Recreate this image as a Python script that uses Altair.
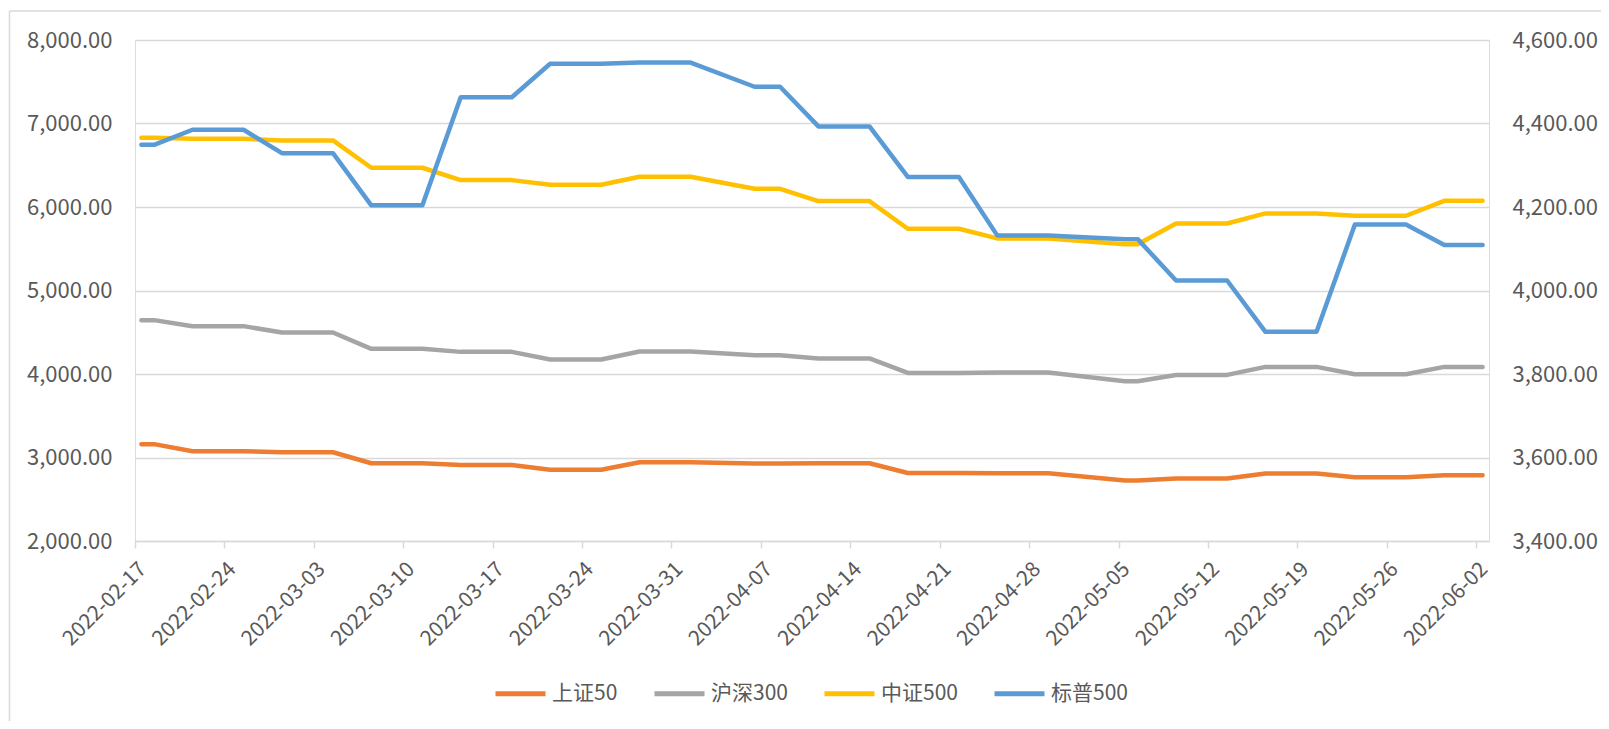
import altair as alt
import pandas as pd

# ---- data (weekly values, shown on every trading day of that week) ----
trading_days = [
    "2022-02-17", "2022-02-18",
    "2022-02-21", "2022-02-22", "2022-02-23", "2022-02-24", "2022-02-25",
    "2022-02-28", "2022-03-01", "2022-03-02", "2022-03-03", "2022-03-04",
    "2022-03-07", "2022-03-08", "2022-03-09", "2022-03-10", "2022-03-11",
    "2022-03-14", "2022-03-15", "2022-03-16", "2022-03-17", "2022-03-18",
    "2022-03-21", "2022-03-22", "2022-03-23", "2022-03-24", "2022-03-25",
    "2022-03-28", "2022-03-29", "2022-03-30", "2022-03-31", "2022-04-01",
    "2022-04-06", "2022-04-07", "2022-04-08",
    "2022-04-11", "2022-04-12", "2022-04-13", "2022-04-14", "2022-04-15",
    "2022-04-18", "2022-04-19", "2022-04-20", "2022-04-21", "2022-04-22",
    "2022-04-25", "2022-04-26", "2022-04-27", "2022-04-28", "2022-04-29",
    "2022-05-05", "2022-05-06",
    "2022-05-09", "2022-05-10", "2022-05-11", "2022-05-12", "2022-05-13",
    "2022-05-16", "2022-05-17", "2022-05-18", "2022-05-19", "2022-05-20",
    "2022-05-23", "2022-05-24", "2022-05-25", "2022-05-26", "2022-05-27",
    "2022-05-30", "2022-05-31", "2022-06-01", "2022-06-02",
]
first_iso_week = 7  # ISO week of 2022-02-17

sz50 = [3160, 3075, 3063, 2931, 2911, 2853, 2943, 2927, 2931, 2815, 2812, 2724, 2748, 2808, 2763, 2787]
hs300 = [4645, 4573, 4497, 4301, 4265, 4174, 4270, 4225, 4186, 4013, 4018, 3914, 3989, 4085, 3998, 4085]
zz500 = [6829, 6817, 6797, 6470, 6322, 6266, 6362, 6218, 6071, 5739, 5624, 5555, 5803, 5923, 5895, 6074]
sp500 = [4349, 4385, 4329, 4204, 4463, 4543, 4546, 4488, 4393, 4272, 4132, 4123, 4024, 3901, 4158, 4109]

series_names = ["上证50", "沪深300", "中证500", "标普500"]
series_colors = ["#ED7D31", "#A5A5A5", "#FFC000", "#5B9BD5"]
tick_labels = ["2022-02-17", "2022-02-24", "2022-03-03", "2022-03-10", "2022-03-17",
               "2022-03-24", "2022-03-31", "2022-04-07", "2022-04-14", "2022-04-21",
               "2022-04-28", "2022-05-05", "2022-05-12", "2022-05-19", "2022-05-26",
               "2022-06-02"]
left_ticks = [2000, 3000, 4000, 5000, 6000, 7000, 8000]
right_ticks = [3400, 3600, 3800, 4000, 4200, 4400, 4600]

# ---- build table ----
values_by_series = dict(zip(series_names, [sz50, hs300, zz500, sp500]))
rows = []
for d in trading_days:
    wk = pd.Timestamp(d).isocalendar().week - first_iso_week
    for name in series_names:
        rows.append({"date": d + "T12:00:00", "series": name,
                     "value": values_by_series[name][wk]})
df = pd.DataFrame(rows)

def dt(s):
    y, m, d = (int(p) for p in s.split("-"))
    return alt.DateTime(year=y, month=m, date=d)

FONT = "Noto Sans CJK SC"
GRID = "#D9D9D9"
TEXT = "#595959"

x_enc = alt.X(
    "date:T",
    scale=alt.Scale(domain=[dt("2022-02-17"), dt("2022-06-03")], nice=False),
    axis=alt.Axis(
        values=[dt(s) for s in tick_labels], format="%Y-%m-%d", title=None,
        labelAngle=-45, labelFontSize=21, labelColor=TEXT, labelFont=FONT,
        labelPadding=10, grid=False, domainColor=GRID, domainWidth=1.5,
        tickColor=GRID, tickSize=7, tickWidth=1.5, labelOverlap=False,
        labelBound=False, labelFlush=False,
    ),
)

color_enc = alt.Color(
    "series:N",
    scale=alt.Scale(domain=series_names, range=series_colors),
    legend=alt.Legend(
        title=None, orient="none", direction="horizontal",
        legendX=358, legendY=626, symbolType="stroke", symbolSize=2500,
        symbolStrokeWidth=5, labelFontSize=21, labelFont=FONT,
        labelColor=TEXT, labelOffset=4, columnPadding=26,
    ),
)

left_lines = alt.Chart(df).transform_filter(
    alt.FieldOneOfPredicate(field="series", oneOf=series_names[:3])
).mark_line(strokeWidth=4.5, strokeCap="round", strokeJoin="round").encode(
    x=x_enc,
    y=alt.Y(
        "value:Q",
        scale=alt.Scale(domain=[2000, 8000], nice=False, zero=False),
        axis=alt.Axis(
            values=left_ticks, format=",.2f", title=None, orient="left",
            labelFontSize=22, labelFont=FONT, labelColor=TEXT, labelPadding=23,
            domain=False, ticks=False, gridColor=GRID, gridWidth=1.5,
        ),
    ),
    color=color_enc,
)

right_line = alt.Chart(df).transform_filter(
    alt.FieldEqualPredicate(field="series", equal=series_names[3])
).mark_line(strokeWidth=4.5, strokeCap="round", strokeJoin="round").encode(
    x=x_enc,
    y=alt.Y(
        "value:Q",
        scale=alt.Scale(domain=[3400, 4600], nice=False, zero=False),
        axis=alt.Axis(
            values=right_ticks, format=",.2f", title=None, orient="right",
            labelFontSize=22, labelFont=FONT, labelColor=TEXT, labelPadding=23,
            domain=False, ticks=False, grid=False,
        ),
    ),
    color=alt.Color("series:N", scale=alt.Scale(domain=series_names, range=series_colors)),
)

border_left = alt.Chart().mark_rule(color=GRID, strokeWidth=1.5).encode(
    x=alt.value(-125.5), y=alt.value(-29), y2=alt.value(700)
)
border_top = alt.Chart().mark_rule(color=GRID, strokeWidth=1.5).encode(
    x=alt.value(-125.5), x2=alt.value(1470), y=alt.value(-29)
)

chart = alt.layer(left_lines, right_line, border_left, border_top).resolve_scale(
    y="independent"
).properties(
    width=1354, height=501,
    autosize=alt.AutoSizeParams(type="none"),
    padding={"left": 127, "top": 32, "right": 112, "bottom": 180},
).configure_view(stroke=None).configure(background="white")

chart.save("out.html", embed_options={"renderer": "svg", "actions": False})
